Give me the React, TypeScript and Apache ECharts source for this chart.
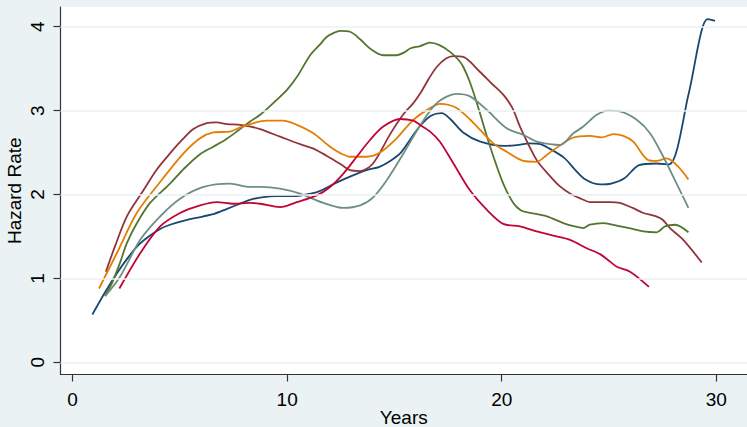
import React, { useEffect, useRef } from "react";
import * as echarts from "echarts";

const xTicks = [0, 10, 20, 30];
const yTicks = [0, 1, 2, 3, 4];

const navy: [number, number][] = [
  [0.92, 0.57], [1.5, 0.83], [2.06, 1.06], [2.53, 1.23], [3.0, 1.38], [3.5, 1.49], [4.08, 1.59],
  [4.54, 1.64], [5.2, 1.69], [6.1, 1.74], [6.6, 1.77], [7.2, 1.83], [7.8, 1.89], [8.3, 1.94],
  [8.9, 1.97], [9.5, 1.98], [10.3, 1.98], [11.1, 2.01], [11.6, 2.05], [12.2, 2.13], [12.9, 2.21],
  [13.7, 2.29], [14.3, 2.33], [14.8, 2.4], [15.3, 2.5], [15.8, 2.68], [16.2, 2.82], [16.7, 2.94],
  [17.2, 2.97], [17.6, 2.9], [18.2, 2.74], [19.0, 2.63], [20.1, 2.58], [20.7, 2.59], [21.3, 2.61],
  [21.8, 2.6], [22.2, 2.55], [22.9, 2.44], [23.4, 2.3], [23.9, 2.18], [24.6, 2.12], [25.1, 2.13],
  [25.7, 2.19], [26.4, 2.35], [27.2, 2.37], [27.8, 2.36], [28.7, 3.19], [29.3, 3.94], [29.6, 4.09],
  [29.94, 4.07],
];

const maroon: [number, number][] = [
  [1.55, 1.08], [2.0, 1.4], [2.53, 1.74], [3.3, 2.05], [3.9, 2.29], [4.54, 2.49], [5.1, 2.65],
  [5.63, 2.78], [6.25, 2.85], [6.7, 2.86], [7.2, 2.84], [7.8, 2.83], [8.3, 2.81], [8.74, 2.78],
  [9.67, 2.69], [10.6, 2.6], [11.2, 2.55], [11.85, 2.46], [12.5, 2.36], [12.93, 2.29], [13.4, 2.28],
  [14.0, 2.37], [14.8, 2.72], [15.4, 2.95], [15.88, 3.09], [16.19, 3.2], [16.6, 3.38], [16.97, 3.52],
  [17.4, 3.62], [17.75, 3.65], [18.21, 3.64], [18.99, 3.46], [19.5, 3.33], [20.07, 3.19], [20.5, 3.03],
  [20.85, 2.81], [21.63, 2.41], [22.25, 2.22], [22.7, 2.1], [23.2, 2.01], [23.7, 1.95], [24.11, 1.91],
  [25.05, 1.91], [25.5, 1.9], [26.1, 1.84], [26.6, 1.78], [27.2, 1.74], [27.5, 1.7], [27.84, 1.6],
  [28.46, 1.46], [29.32, 1.19],
];

const green: [number, number][] = [
  [1.51, 0.79], [1.83, 0.94], [2.2, 1.18], [2.53, 1.42], [3.0, 1.66], [3.61, 1.9], [4.54, 2.13],
  [5.2, 2.31], [5.94, 2.48], [6.56, 2.57], [7.1, 2.65], [7.65, 2.75], [8.27, 2.87], [8.74, 2.95],
  [9.52, 3.13], [10.0, 3.25], [10.45, 3.4], [11.07, 3.66], [11.5, 3.78], [11.85, 3.88], [12.2, 3.93],
  [12.47, 3.95], [12.93, 3.94], [13.4, 3.85], [13.86, 3.74], [14.48, 3.66], [15.1, 3.66], [15.5, 3.7],
  [15.73, 3.74], [16.2, 3.77], [16.66, 3.81], [17.1, 3.78], [17.59, 3.7], [18.0, 3.6], [18.21, 3.52],
  [18.5, 3.35], [18.84, 3.09], [19.46, 2.57], [20.07, 2.13], [20.54, 1.9], [20.9, 1.81], [21.16, 1.79],
  [22.1, 1.74], [22.87, 1.66], [23.4, 1.62], [23.8, 1.6], [24.11, 1.64], [24.73, 1.66], [25.51, 1.62],
  [26.1, 1.59], [26.6, 1.56], [27.22, 1.55], [27.61, 1.62], [28.08, 1.64], [28.7, 1.55],
];

const orange: [number, number][] = [
  [1.23, 0.88], [2.06, 1.3], [2.99, 1.78], [4.08, 2.15], [5.17, 2.49], [5.94, 2.67], [6.56, 2.74],
  [7.34, 2.75], [7.81, 2.8], [8.27, 2.84], [9.05, 2.88], [9.82, 2.88], [10.45, 2.83], [11.22, 2.73],
  [12.0, 2.57], [12.5, 2.49], [12.93, 2.45], [13.71, 2.45], [14.33, 2.5], [15.1, 2.67], [15.88, 2.89],
  [16.66, 3.03], [17.12, 3.08], [17.5, 3.07], [17.9, 3.03], [18.5, 2.9], [18.99, 2.77], [19.61, 2.61],
  [20.23, 2.51], [21.01, 2.4], [21.63, 2.39], [22.0, 2.45], [22.4, 2.53], [23.34, 2.68], [24.11, 2.7],
  [24.66, 2.68], [25.2, 2.72], [25.67, 2.7], [26.13, 2.63], [26.83, 2.41], [27.22, 2.4], [27.69, 2.43],
  [28.23, 2.33], [28.7, 2.18],
];

const teal: [number, number][] = [
  [1.52, 0.79], [2.21, 1.02], [3.15, 1.46], [4.08, 1.74], [5.01, 1.95], [6.1, 2.09], [7.34, 2.13],
  [8.27, 2.09], [8.74, 2.09], [9.67, 2.07], [10.6, 2.01], [11.69, 1.9], [12.62, 1.84], [13.4, 1.87],
  [14.02, 1.97], [14.64, 2.17], [15.42, 2.49], [16.19, 2.82], [16.97, 3.09], [17.9, 3.2], [18.52, 3.17],
  [19.3, 3.01], [20.23, 2.79], [21.01, 2.71], [21.63, 2.63], [22.25, 2.6], [22.72, 2.59], [23.34, 2.73],
  [23.8, 2.81], [24.43, 2.95], [24.97, 3.0], [25.51, 2.99], [26.29, 2.89], [26.91, 2.73], [27.53, 2.45],
  [28.15, 2.13], [28.7, 1.84],
];

const cranberry: [number, number][] = [
  [2.18, 0.88], [3.15, 1.3], [4.08, 1.62], [5.01, 1.78], [5.94, 1.87], [6.72, 1.91], [7.49, 1.89],
  [8.27, 1.9], [8.74, 1.89], [9.67, 1.85], [10.45, 1.91], [11.38, 1.99], [12.0, 2.09], [12.62, 2.25],
  [13.24, 2.45], [13.86, 2.65], [14.48, 2.81], [15.26, 2.9], [15.88, 2.88], [16.19, 2.83], [16.66, 2.75],
  [17.12, 2.63], [17.75, 2.37], [18.52, 2.05], [19.3, 1.82], [20.07, 1.65], [20.85, 1.62], [21.63, 1.56],
  [22.4, 1.51], [23.18, 1.46], [23.96, 1.36], [24.58, 1.29], [25.05, 1.2], [25.36, 1.14], [25.98, 1.08],
  [26.86, 0.9],
];

const seriesList = [
  { name: "navy", data: navy, color: "#1a476f" },
  { name: "maroon", data: maroon, color: "#90353b" },
  { name: "forest_green", data: green, color: "#55752f" },
  { name: "dkorange", data: orange, color: "#e37e00" },
  { name: "teal", data: teal, color: "#6e8e84" },
  { name: "cranberry", data: cranberry, color: "#c10534" },
];

const FONT = "'Liberation Sans', Arial, sans-serif";
const BG = "#eaf2f3";

export default function App() {
  const ref = useRef<HTMLDivElement>(null);
  useEffect(() => {
    if (!ref.current) return;
    const chart = echarts.init(ref.current, null, { renderer: "svg" });
    chart.setOption({
      animation: false,
      backgroundColor: BG,
      grid: {
        left: 60.5,
        top: 7,
        right: 0,
        bottom: 52.5,
        show: true,
        backgroundColor: "#ffffff",
        borderWidth: 0,
        containLabel: false,
        outerBoundsMode: "none",
      },
      xAxis: {
        type: "value",
        min: -0.564,
        max: 31.43,
        name: "Years",
        nameLocation: "middle",
        nameGap: 33,
        nameMoveOverlap: false,
        nameTextStyle: { fontFamily: FONT, fontSize: 19, lineHeight: 19, color: "#000" },
        axisLine: { show: true, onZero: false, lineStyle: { color: "#333", width: 1.2 } },
        axisTick: { show: true, customValues: xTicks, length: 7, lineStyle: { color: "#333", width: 1.2 } },
        axisLabel: { customValues: xTicks, margin: 15, fontFamily: FONT, fontSize: 19, color: "#000" },
        splitLine: { show: false },
      },
      yAxis: {
        type: "value",
        min: -0.145,
        max: 4.235,
        name: "Hazard Rate",
        nameLocation: "middle",
        nameRotate: 90,
        nameGap: 37,
        nameMoveOverlap: false,
        nameTextStyle: { fontFamily: FONT, fontSize: 19, color: "#000" },
        axisLine: { show: true, onZero: false, lineStyle: { color: "#333", width: 1.2 } },
        axisTick: { show: true, customValues: yTicks, length: 7, lineStyle: { color: "#333", width: 1.2 } },
        axisLabel: { customValues: yTicks, rotate: 90, margin: 14, fontFamily: FONT, fontSize: 19, color: "#000" },
        splitLine: { show: false },
      },
      series: [
        {
          type: "line",
          name: "grid",
          data: [],
          z: 1,
          silent: true,
          markLine: {
            silent: true,
            symbol: "none",
            label: { show: false },
            lineStyle: { color: BG, width: 1.6, type: "solid" },
            data: yTicks.map((v) => ({ yAxis: v })),
          },
        },
        ...seriesList.map((s) => ({
          type: "line",
          name: s.name,
          data: s.data,
          showSymbol: false,
          smooth: 0.3,
          z: 3,
          lineStyle: { color: s.color, width: 1.8 },
          itemStyle: { color: s.color },
        })),
      ],
    });
    return () => chart.dispose();
  }, []);
  return <div ref={ref} style={{ width: 747, height: 427, position: "absolute", left: 0, top: 0 }} />;
}
